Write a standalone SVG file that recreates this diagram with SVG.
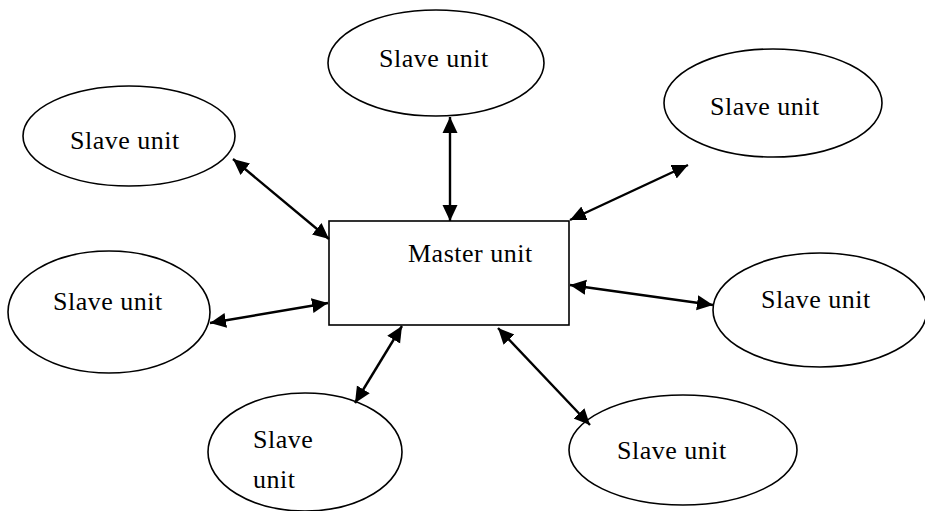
<svg xmlns="http://www.w3.org/2000/svg" width="925" height="511" viewBox="0 0 925 511">
<style>
.n{fill:#fff;stroke:#000;stroke-width:1.6}
.t{font-family:'Liberation Serif','Times New Roman','DejaVu Serif',serif;font-size:26px;fill:#000;letter-spacing:0.5px}
.c{stroke:#000;stroke-width:2.4;fill:none;marker-start:url(#ah);marker-end:url(#ah)}
</style>
<defs>
<marker id="ah" markerUnits="userSpaceOnUse" markerWidth="17" markerHeight="17" viewBox="0 0 17 17" refX="16" refY="8.5" orient="auto-start-reverse">
<path d="M0,1 L16,8.5 L0,16 Z" fill="#000"/>
</marker>
</defs>
<g id="slave-top"><ellipse class="n" cx="436" cy="63" rx="108" ry="53"/><text class="t" x="379" y="67">Slave unit</text></g>
<g id="slave-topright"><ellipse class="n" cx="773" cy="103" rx="109" ry="54"/><text class="t" x="710" y="115">Slave unit</text></g>
<g id="slave-topleft"><ellipse class="n" cx="129" cy="136" rx="106" ry="50"/><text class="t" x="70" y="149">Slave unit</text></g>
<g id="slave-left"><ellipse class="n" cx="109" cy="312" rx="101" ry="61"/><text class="t" x="53" y="310">Slave unit</text></g>
<g id="slave-right"><ellipse class="n" cx="820" cy="310" rx="107" ry="57"/><text class="t" x="761" y="308">Slave unit</text></g>
<g id="slave-bottom"><ellipse class="n" cx="305" cy="452" rx="97" ry="59"/><text class="t" x="253" y="448">Slave</text><text class="t" x="253" y="488">unit</text></g>
<g id="slave-bottomright"><ellipse class="n" cx="683" cy="450" rx="114" ry="55"/><text class="t" x="617" y="459">Slave unit</text></g>
<g id="master"><rect class="n" x="329" y="221" width="240" height="104"/><text class="t" x="408" y="262">Master unit</text></g>
<g id="connectors">
<line class="c" x1="450" y1="117" x2="450" y2="221"/>
<line class="c" x1="688" y1="165" x2="570" y2="220"/>
<line class="c" x1="233" y1="159" x2="329" y2="239"/>
<line class="c" x1="210" y1="323" x2="328" y2="303"/>
<line class="c" x1="570" y1="285" x2="713" y2="305"/>
<line class="c" x1="402" y1="326" x2="355" y2="403"/>
<line class="c" x1="498" y1="328" x2="590" y2="425"/>
</g>
</svg>
